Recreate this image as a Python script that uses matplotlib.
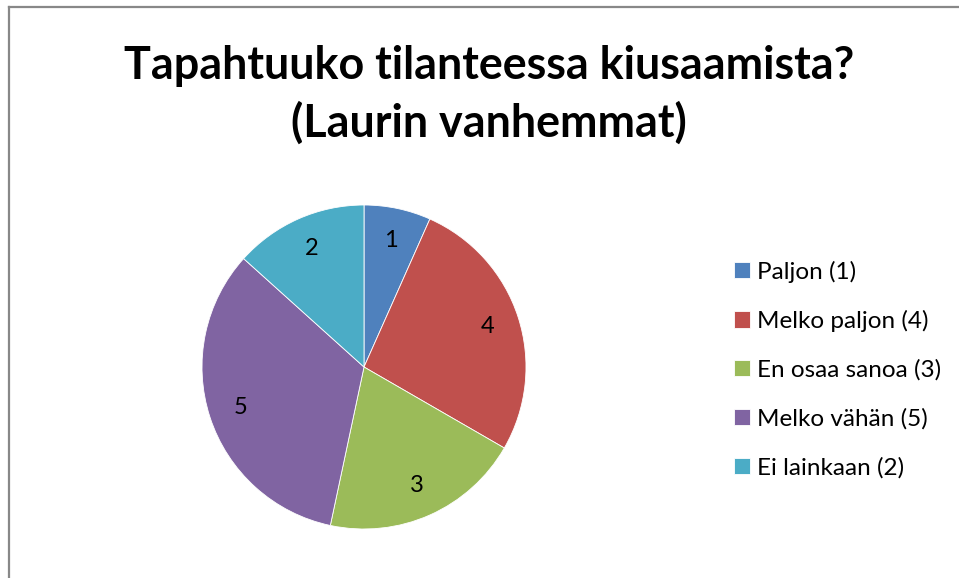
import matplotlib
matplotlib.use("Agg")
import matplotlib.pyplot as plt
from matplotlib.lines import Line2D

# data
categories = ["Paljon (1)", "Melko paljon (4)", "En osaa sanoa (3)",
              "Melko vähän (5)", "Ei lainkaan (2)"]
counts = [1, 4, 3, 5, 2]
colors = ["#4F81BD", "#C0504D", "#9BBB59", "#8064A2", "#4BACC6"]
title = "Tapahtuuko tilanteessa kiusaamista?\n(Laurin vanhemmat)"

plt.rcParams["font.family"] = ["Lato", "DejaVu Sans"]

W, H = 959, 578
fig = plt.figure(figsize=(W / 100, H / 100), dpi=100)

# chart frame (only left and top edges visible)
fig.add_artist(Line2D([8.5 / W, 8.5 / W], [0, 1 - 7 / H], transform=fig.transFigure,
                      color="#888888", linewidth=1.6))
fig.add_artist(Line2D([8.5 / W, 1], [1 - 7 / H, 1 - 7 / H], transform=fig.transFigure,
                      color="#888888", linewidth=1.6))

fig.text(489 / W, 1 - 95 / H, title, ha="center", va="center",
         fontsize=32.3, fontweight="bold", linespacing=1.42)

cx, cy, r = 364, 367, 162
ax = fig.add_axes([(cx - r) / W, (H - cy - r) / H, 2 * r / W, 2 * r / H])
total = sum(counts)
wedges, _, autotexts = ax.pie(
    counts, colors=colors, startangle=90, counterclock=False, radius=1,
    autopct=lambda p: f"{round(p * total / 100):d}", pctdistance=0.8,
    wedgeprops=dict(edgecolor="white", linewidth=0.6),
    textprops=dict(fontsize=17, color="black"))
ax.set_xlim(-1, 1)
ax.set_ylim(-1, 1)

leg = fig.legend(wedges, categories, loc="upper left",
                 bbox_to_anchor=(724 / W, 1 - 251 / H), frameon=False,
                 fontsize=17.5, handlelength=0.65, handleheight=0.65,
                 handletextpad=0.3, labelspacing=1.12, borderaxespad=0)

fig.savefig("out.png", dpi=100)
